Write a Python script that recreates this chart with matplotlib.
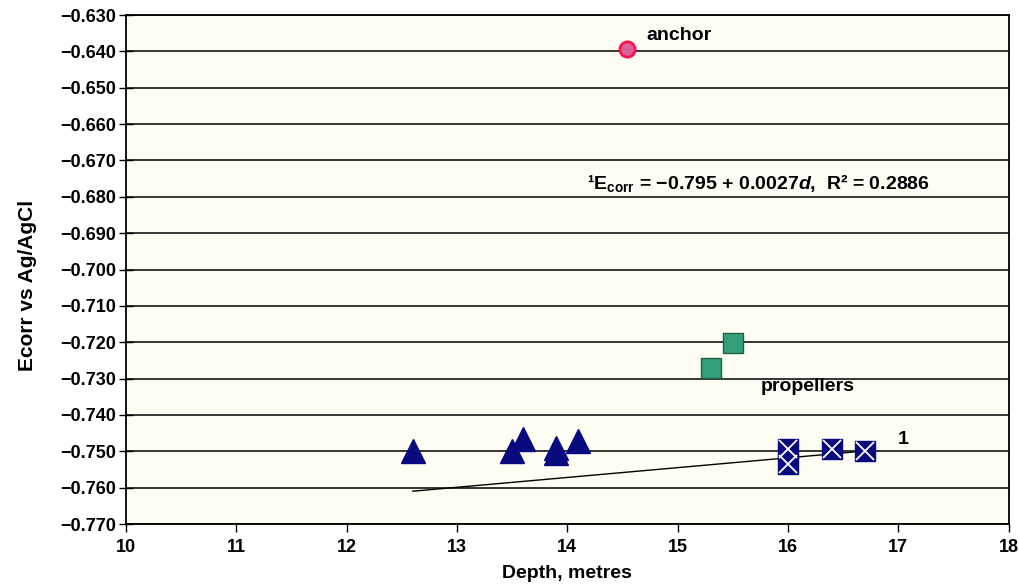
import numpy as np
import matplotlib
matplotlib.use("Agg")
import matplotlib.pyplot as plt
from matplotlib.ticker import FuncFormatter, MultipleLocator

plt.rcParams['font.family'] = ['Liberation Sans', 'DejaVu Sans']
plt.rcParams['font.weight'] = 'bold'
plt.rcParams['mathtext.fontset'] = 'custom'
plt.rcParams['mathtext.rm'] = 'Liberation Sans:bold'
plt.rcParams['mathtext.it'] = 'Liberation Sans:italic:bold'
plt.rcParams['mathtext.default'] = 'rm'

# site data: depth (m) and Ecorr (V vs Ag/AgCl)
tri_depth = [12.6, 13.5, 13.6, 13.9, 13.9, 14.1]
tri_ecorr = [-0.750, -0.750, -0.7465, -0.749, -0.7505, -0.7473]

box_depth = [16.0, 16.0, 16.4, 16.7]
box_ecorr = [-0.7495, -0.7535, -0.7493, -0.750]

prop_depth = [15.3, 15.5]
prop_ecorr = [-0.7272, -0.7203]

anchor_depth = [14.54]
anchor_ecorr = [-0.6393]

# regression 1: Ecorr = -0.795 + 0.0027 d
fit_a = -0.795
fit_b = 0.0027
fit_range = [12.6, 16.7]

fig = plt.figure(figsize=(10.19, 5.86), dpi=100)
fig.patch.set_facecolor('white')
ax = fig.add_axes([0.1237, 0.1058, 0.8660, 0.8686])
ax.set_facecolor('#fdfdf4')

ax.set_xlim(10, 18)
ax.set_ylim(-0.770, -0.630)
ax.xaxis.set_major_locator(MultipleLocator(1))
ax.yaxis.set_major_locator(MultipleLocator(0.01))
ax.yaxis.set_major_formatter(FuncFormatter(lambda v, p: f"{v:.3f}".replace('-', '\u2212')))
ax.grid(axis='y', color='black', lw=1.1, zorder=1)
ax.set_axisbelow(True)

for s in ax.spines.values():
    s.set_linewidth(1.3)

ax.tick_params(axis='y', direction='inout', length=10, width=1, labelsize=13, pad=2)
ax.tick_params(axis='x', direction='out', length=6, width=1, labelsize=13, pad=5)

xd = np.array(fit_range)
ax.plot(xd, fit_a + fit_b * xd, color='black', lw=1, zorder=2)

ax.plot(tri_depth, tri_ecorr, ls='none', marker='^', ms=17, color='#0a0a80',
        mec='#0a0a80', zorder=3)
ax.plot(box_depth, box_ecorr, ls='none', marker='s', ms=15, color='#0a0a80',
        mec='#0a0a80', zorder=3)
ax.plot(box_depth, box_ecorr, ls='none', marker='x', ms=13, mew=1.3, color='white', zorder=4)
ax.plot(prop_depth, prop_ecorr, ls='none', marker='s', ms=14, color='#33a07a',
        mec='#1f5f48', mew=1, zorder=3)
ax.plot(anchor_depth, anchor_ecorr, ls='none', marker='o', ms=11, color='#d9609a',
        mec='#ff1050', mew=2, zorder=3)

ax.text(14.72, -0.6357, 'anchor', fontsize=14, fontweight='bold', va='center')
ax.text(16.18, -0.7322, 'propellers', fontsize=14, fontweight='bold', va='center', ha='center')
ax.text(17.0, -0.7468, '1', fontsize=14, fontweight='bold', va='center')
ax.text(15.73, -0.6763, r'¹E$_{corr}$ = −0.795 + 0.0027$\mathit{d}$,  R² = 0.2886',
        fontsize=14, fontweight='bold', va='center', ha='center')

fig.text(567 / 1019, 1 - 574 / 586, 'Depth, metres', fontsize=14, fontweight='bold',
         ha='center', va='center')
fig.text(28 / 1019, 1 - 285 / 586, 'Ecorr vs Ag/AgCl', fontsize=15, fontweight='bold',
         ha='center', va='center', rotation=90)

fig.savefig('out.png', dpi=100)
